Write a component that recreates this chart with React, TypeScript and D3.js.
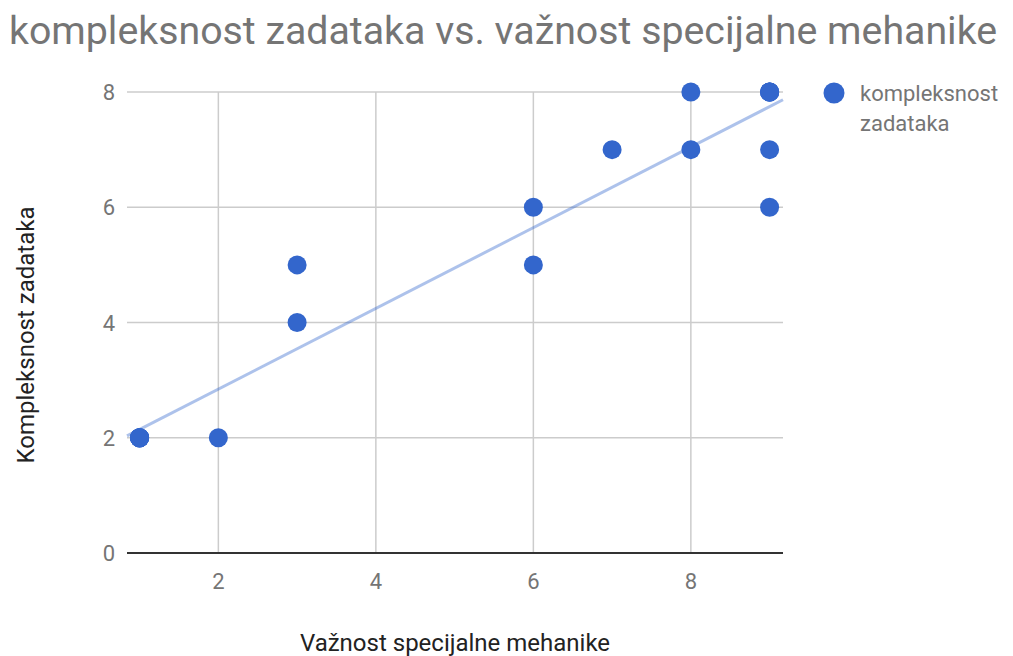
import React from "react";
import * as d3 from "d3";

const xValues = [1, 1, 1, 1, 1, 1, 2, 3, 3, 6, 6, 7, 8, 8, 9, 9, 9, 9, 9, 9];
const yValues = [2, 2, 2, 2, 2, 2, 2, 5, 4, 6, 5, 7, 8, 7, 8, 8, 8, 8, 7, 6];
const xTicks = [2, 4, 6, 8];
const yTicks = [0, 2, 4, 6, 8];
const title = "kompleksnost zadataka vs. važnost specijalne mehanike";
const xTitle = "Važnost specijalne mehanike";
const yTitle = "Kompleksnost zadataka";
const legendLines = ["kompleksnost", "zadataka"];

const W = 1013;
const H = 656;
const left = 127;
const right = 783;
const top = 92;
const bottom = 553;

export default function App() {
  const x = d3.scaleLinear().domain([0.84, 9.17]).range([left, right]);
  const y = d3.scaleLinear().domain([0, 8]).range([bottom, top]);

  const pts = xValues.map((v, i) => ({ x: v, y: yValues[i] }));
  const mx = d3.mean(pts, (p) => p.x) as number;
  const my = d3.mean(pts, (p) => p.y) as number;
  const sxy = d3.sum(pts, (p) => (p.x - mx) * (p.y - my));
  const sxx = d3.sum(pts, (p) => (p.x - mx) * (p.x - mx));
  const slope = sxy / sxx;
  const intercept = my - slope * mx;
  const [d0, d1] = x.domain();
  const trend = d3.line<number>()
    .x((d) => x(d))
    .y((d) => y(intercept + slope * d))([d0, d1]);

  const font = "Roboto, 'Noto Sans', sans-serif";
  const blue = "#3366cc";

  return (
    <div style={{ position: "absolute", left: 0, top: 0 }}>
      <svg width={W} height={H} style={{ display: "block", background: "#fff" }}>
        <text x={9} y={44} fontFamily={font} fontSize={39.3} fill="#757575">{title}</text>

        {yTicks.filter((t) => t !== 0).map((t) => (
          <line key={"hy" + t} x1={left} x2={right} y1={y(t)} y2={y(t)} stroke="#cccccc" strokeWidth={1.5} />
        ))}
        {xTicks.map((t) => (
          <line key={"vx" + t} x1={x(t)} x2={x(t)} y1={top} y2={bottom} stroke="#cccccc" strokeWidth={1.5} />
        ))}
        <line x1={left} x2={right} y1={y(0)} y2={y(0)} stroke="#333333" strokeWidth={2} />

        {yTicks.map((t) => (
          <text key={"ly" + t} x={115} y={y(t) + 8} textAnchor="end" fontFamily={font} fontSize={22} fill="#757575">{t}</text>
        ))}
        {xTicks.map((t) => (
          <text key={"lx" + t} x={x(t)} y={589} textAnchor="middle" fontFamily={font} fontSize={22} fill="#757575">{t}</text>
        ))}

        <path d={trend || ""} fill="none" stroke={blue} strokeOpacity={0.4} strokeWidth={3} />

        {pts.map((p, i) => (
          <circle key={i} cx={x(p.x)} cy={y(p.y)} r={9.5} fill={blue} />
        ))}

        <text x={455} y={651} textAnchor="middle" fontFamily={font} fontSize={24} fill="#222222">{xTitle}</text>
        <text transform={`translate(34, 335) rotate(-90)`} textAnchor="middle" fontFamily={font} fontSize={24} fill="#222222">{yTitle}</text>

        <circle cx={834} cy={93} r={10.5} fill={blue} />
        {legendLines.map((l, i) => (
          <text key={l} x={860} y={101 + i * 30} fontFamily={font} fontSize={22} fill="#757575">{l}</text>
        ))}
      </svg>
    </div>
  );
}
